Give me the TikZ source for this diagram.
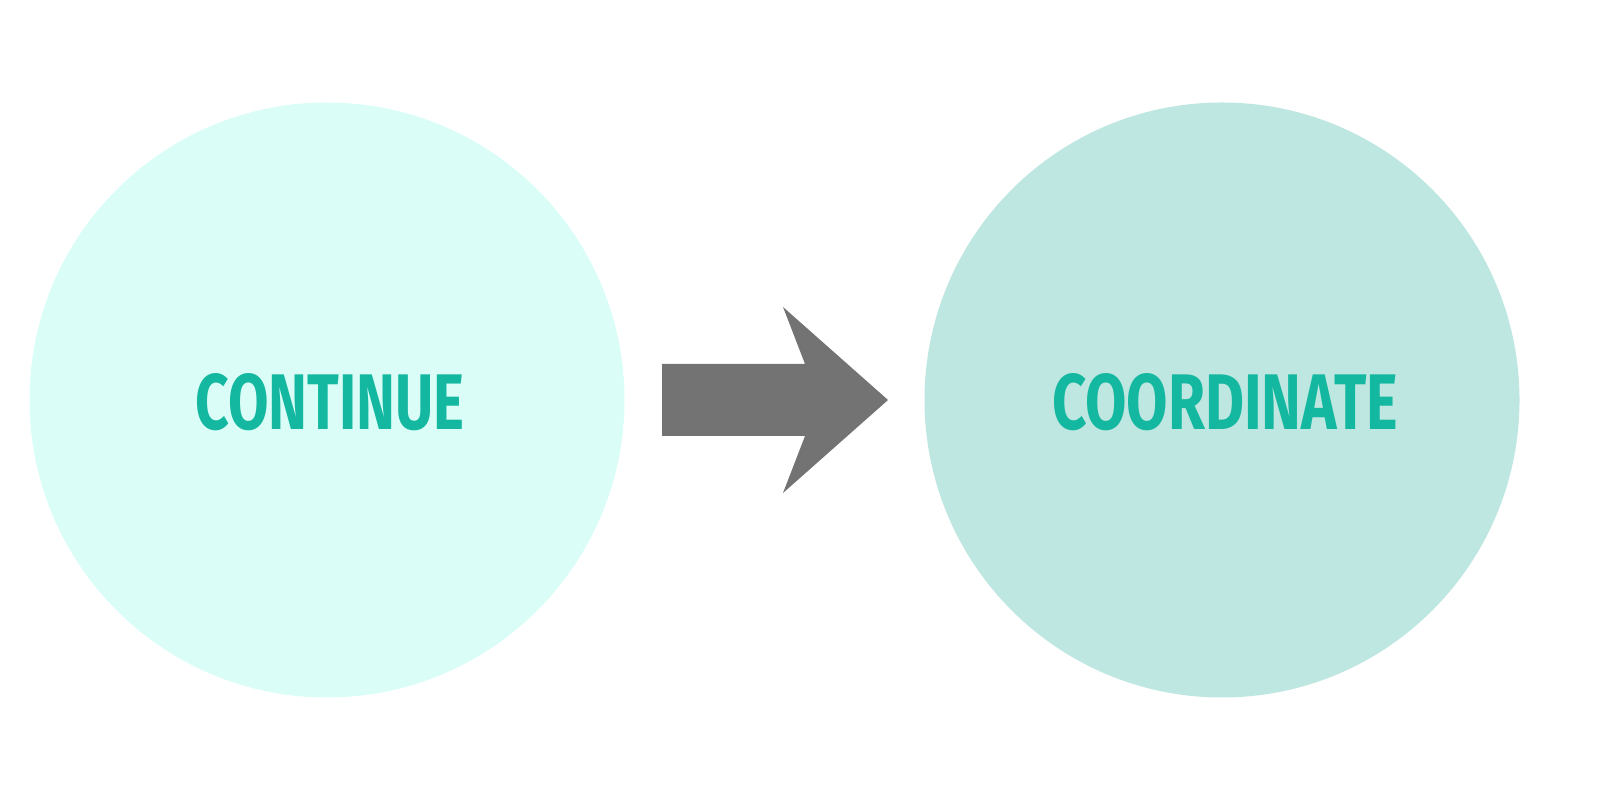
\documentclass[tikz,border=0pt]{standalone}
\usepackage{fontspec}
\usepackage{graphicx}
\setmainfont{Fira Sans}
\definecolor{tealtext}{HTML}{14B8A0}
\definecolor{paleleft}{HTML}{DAFEF7}
\definecolor{paleright}{HTML}{BEE7E1}
\definecolor{arrowgray}{HTML}{737373}
\tikzset{
  stage/.style={circle, minimum size=5.95cm, inner sep=0pt},
  word/.style={text=tealtext, inner sep=0pt, font=\bfseries}
}
\begin{document}
\begin{tikzpicture}
    \useasboundingbox (0,0) rectangle (16,8);
    \node[stage, fill=paleleft] (cont) at (3.27,4.0) {};
    \node[stage, fill=paleright] (coord) at (12.22,4.0) {};
    \node[word] (conttext) at (3.30,3.98) {\resizebox{2.69cm}{0.56cm}{CONTINUE}};
    \node[word] (coordtext) at (12.25,3.98) {\resizebox{3.46cm}{0.56cm}{COORDINATE}};
    % block arrow
    \fill[arrowgray] (6.62,4.36) -- (8.05,4.36) -- (7.83,4.93) -- (8.88,4.0)
      -- (7.83,3.07) -- (8.05,3.64) -- (6.62,3.64) -- cycle;
\end{tikzpicture}
\end{document}
